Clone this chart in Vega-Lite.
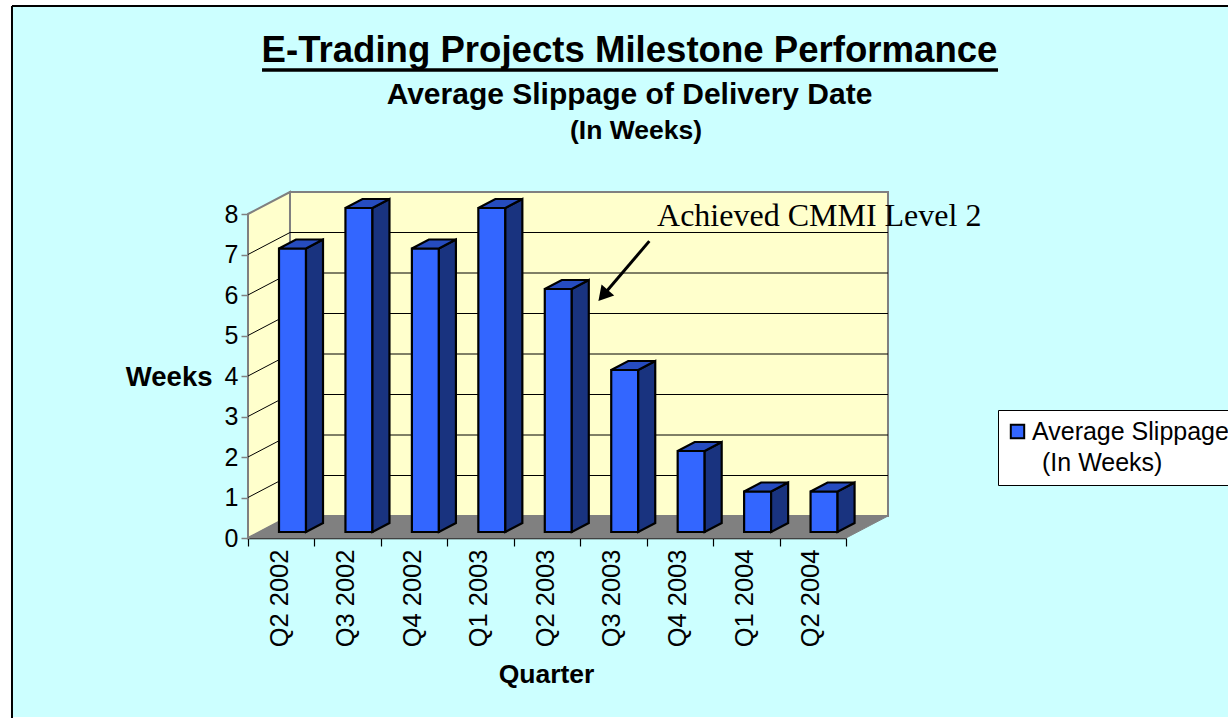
{
"$schema":"https://vega.github.io/schema/vega-lite/v6.json",
"width":1216,"height":711,"autosize":"none",
"padding":{"left":12,"top":6,"right":0,"bottom":1},
"background":"#ffffff",
"view":{"fill":"#CCFFFF","stroke":null},
"title":{"text":"E-Trading Projects Milestone Performance","subtitle":"Average Slippage of Delivery Date","anchor":"middle","frame":"group","dx":9.5,"dy":105,"offset":0,"font":"Liberation Sans","fontSize":36.6,"fontWeight":"bold","color":"#000000","subtitleFont":"Liberation Sans","subtitleFontSize":30,"subtitleFontWeight":"bold","subtitleColor":"#000000","subtitlePadding":10},
"datasets":{
"bars":[{"quarter":"Q2 2002","weeks":7},{"quarter":"Q3 2002","weeks":8},{"quarter":"Q4 2002","weeks":7},{"quarter":"Q1 2003","weeks":8},{"quarter":"Q2 2003","weeks":6},{"quarter":"Q3 2003","weeks":4},{"quarter":"Q4 2003","weeks":2},{"quarter":"Q1 2004","weeks":1},{"quarter":"Q2 2004","weeks":1}],
"corners":[{"p":0},{"p":1},{"p":2},{"p":3}],
"grid":[{"k":1},{"k":2},{"k":3},{"k":4},{"k":5},{"k":6},{"k":7}]
},
"resolve":{"scale":{"x":"independent"},"axis":{"x":"independent"}},
"layer":[
{"layer":[
{"data":{"name":"corners"},"transform":[{"filter":"datum.p<2"},{"calculate":"datum.p*0.632","as":"x"},{"calculate":"datum.p*0.543","as":"yb"},{"calculate":"8+datum.p*0.543","as":"yt"}],
 "mark":{"type":"area","fill":"#FFFFCC","stroke":"#808080","strokeWidth":2},
 "encoding":{
 "x":{"field":"x","type":"quantitative","scale":{"domain":[0,9],"range":[236,834]},"axis":null},
 "y":{"field":"yt","type":"quantitative","stack":null,"scale":{"domain":[0,8],"range":[532,208]},
  "axis":{"values":[0,1,2,3,4,5,6,7,8],"format":"d","offset":-236,"grid":false,"domainColor":"#808080","domainWidth":2,"tickColor":"#808080","tickSize":7,"tickWidth":1.5,"labelFont":"Liberation Sans","labelFontSize":25,"labelColor":"#000000","labelPadding":3,"title":"Weeks","titleFont":"Liberation Sans","titleFontSize":27.5,"titleFontWeight":"bold","titleColor":"#000000","titleAngle":0,"titleAlign":"right","titleBaseline":"middle","titleX":-36,"titleY":371}},
 "y2":{"field":"yb"}}},
{"mark":{"type":"rect","fill":"#FFFFCC","stroke":"#808080","strokeWidth":2},"data":{"values":[{}]},
 "encoding":{"x":{"datum":0.632,"type":"quantitative","axis":null},"x2":{"datum":9.632},"y":{"datum":0.543,"type":"quantitative"},"y2":{"datum":8.543}}},
{"data":{"name":"grid"},"transform":[{"calculate":"datum.k+0.543","as":"yb"}],
 "mark":{"type":"rule","stroke":"#000000","strokeWidth":1},
 "encoding":{"x":{"datum":0.632,"type":"quantitative","axis":null},"x2":{"datum":9.632},"y":{"field":"yb","type":"quantitative"}}},
{"data":{"name":"grid"},"transform":[{"calculate":"datum.k+0.543","as":"yb"}],
 "mark":{"type":"rule","stroke":"#000000","strokeWidth":1},
 "encoding":{"x":{"datum":0,"type":"quantitative","axis":null},"x2":{"datum":0.632},"y":{"field":"k","type":"quantitative"},"y2":{"field":"yb"}}},
{"data":{"name":"corners"},"transform":[{"calculate":"[0,0.632,9,9.632][datum.p]","as":"x"},{"calculate":"datum.p==0?0:0.543","as":"yt"},{"calculate":"datum.p==3?0.543:0","as":"yb"}],
 "mark":{"type":"area","fill":"#808080","stroke":"#808080","strokeWidth":1},
 "encoding":{"x":{"field":"x","type":"quantitative","axis":null},"y":{"field":"yt","type":"quantitative","stack":null},"y2":{"field":"yb"}}},
{"data":{"name":"bars"},"transform":[{"window":[{"op":"row_number","as":"n"}]},{"calculate":"datum.n-1+0.4666","as":"xl"},{"calculate":"datum.xl+0.4064","as":"xr"},{"calculate":"datum.weeks+0.148","as":"top"},{"calculate":"0.148","as":"base"}],
 "mark":{"type":"rect","stroke":"#000000","strokeWidth":2.2},
 "encoding":{"x":{"field":"xl","type":"quantitative","axis":null},"x2":{"field":"xr"},"y":{"field":"top","type":"quantitative"},"y2":{"field":"base"},
  "color":{"datum":"Average Slippage","scale":{"range":["#3366FF"]},
   "legend":{"orient":"none","legendX":986,"legendY":404,"title":null,"fillColor":"#ffffff","strokeColor":"#000000","padding":9,"symbolType":"square","symbolSize":180,"symbolOffset":-2,"labelOffset":2,"symbolStrokeColor":"#000000","symbolStrokeWidth":2,"labelFont":"Liberation Sans","labelFontSize":25,"labelColor":"#000000","labelLimit":400,"labelExpr":"['Average Slippage','\u200b\u2009\u2009(In Weeks)']","encode":{"labels":{"update":{"lineHeight":{"value":31}}}}}}}},
{"data":{"name":"bars"},"transform":[{"window":[{"op":"row_number","as":"n"}]},{"calculate":"[0,1]","as":"ps"},{"flatten":["ps"]},{"calculate":"datum.n-1+0.873+datum.ps*0.256","as":"x"},{"calculate":"0.148+datum.weeks+datum.ps*0.222","as":"yt"},{"calculate":"0.148+datum.ps*0.222","as":"yb"}],
 "mark":{"type":"area","fill":"#19337F","stroke":"#000000","strokeWidth":2.2},
 "encoding":{"x":{"field":"x","type":"quantitative","axis":null},"y":{"field":"yt","type":"quantitative","stack":null},"y2":{"field":"yb"},"detail":{"field":"quarter"}}},
{"data":{"name":"bars"},"transform":[{"window":[{"op":"row_number","as":"n"}]},{"calculate":"[0,1,2,3]","as":"ps"},{"flatten":["ps"]},{"calculate":"datum.n-1+0.4666+[0,0.256,0.4064,0.6624][datum.ps]","as":"x"},{"calculate":"0.148+datum.weeks+(datum.ps==0?0:0.222)","as":"yt"},{"calculate":"0.148+datum.weeks+(datum.ps==3?0.222:0)","as":"yb"}],
 "mark":{"type":"area","fill":"#264CBF","stroke":"#000000","strokeWidth":2.2},
 "encoding":{"x":{"field":"x","type":"quantitative","axis":null},"y":{"field":"yt","type":"quantitative","stack":null},"y2":{"field":"yb"},"detail":{"field":"quarter"}}},
{"data":{"values":[{}]},"mark":{"type":"rule","stroke":"#000000","strokeWidth":3.5},
 "encoding":{"x":{"datum":0.211,"type":"quantitative","axis":null},"x2":{"datum":11.288},"y":{"datum":11.556,"type":"quantitative"}}},
{"data":{"values":[{"label":"(In Weeks)"}]},"mark":{"type":"text","font":"Liberation Sans","fontSize":26.5,"fontWeight":"bold","color":"#000000","align":"center","baseline":"middle"},
 "encoding":{"x":{"datum":5.84,"type":"quantitative","axis":null},"y":{"datum":10.06,"type":"quantitative"},"text":{"field":"label"}}},
{"data":{"values":[{"label":"Achieved CMMI Level 2"}]},"mark":{"type":"text","font":"Liberation Serif","fontSize":32,"color":"#000000","align":"left","baseline":"middle"},
 "encoding":{"x":{"datum":6.156,"type":"quantitative","axis":null},"y":{"datum":7.95,"type":"quantitative"},"text":{"field":"label"}}},
{"data":{"values":[{}]},"mark":{"type":"rule","stroke":"#000000","strokeWidth":3},
 "encoding":{"x":{"datum":6.04,"type":"quantitative","axis":null},"x2":{"datum":5.388},"y":{"datum":7.33,"type":"quantitative"},"y2":{"datum":6.074}}},
{"data":{"values":[{}]},"mark":{"type":"point","shape":"triangle-up","filled":true,"fill":"#000000","opacity":1,"size":280,"angle":220.8},
 "encoding":{"x":{"datum":5.345,"type":"quantitative","axis":null},"y":{"datum":5.99,"type":"quantitative"}}},
{"data":{"values":[{}]},"mark":{"type":"rule","stroke":"#000000","strokeWidth":2},
 "encoding":{"x":{"datum":-3.552,"type":"quantitative","axis":null},"y":{"datum":13.136,"type":"quantitative"},"y2":{"datum":-4.444}}},
{"data":{"values":[{}]},"mark":{"type":"rule","stroke":"#000000","strokeWidth":2},
 "encoding":{"x":{"datum":-3.552,"type":"quantitative","axis":null},"x2":{"datum":14.8},"y":{"datum":13.136,"type":"quantitative"}}}
]},
{"data":{"name":"bars"},"mark":{"type":"bar","opacity":0},
 "encoding":{"x":{"field":"quarter","type":"nominal","sort":null,"scale":{"range":[236,834],"paddingInner":0,"paddingOuter":0},
  "axis":{"orient":"bottom","offset":-179,"tickBand":"extent","labelAngle":-90,"labelAlign":"right","labelBaseline":"middle","labelOffset":-2,"domainColor":"#000000","domainWidth":1.5,"tickColor":"#000000","tickSize":8,"tickWidth":1.2,"labelFont":"Liberation Sans","labelFontSize":25.5,"labelColor":"#000000","labelPadding":3,"title":"Quarter","titleFont":"Liberation Sans","titleFontSize":26.5,"titleFontWeight":"bold","titleColor":"#000000","titleX":534,"titleY":136,"titleBaseline":"middle"}}}}
]
}
